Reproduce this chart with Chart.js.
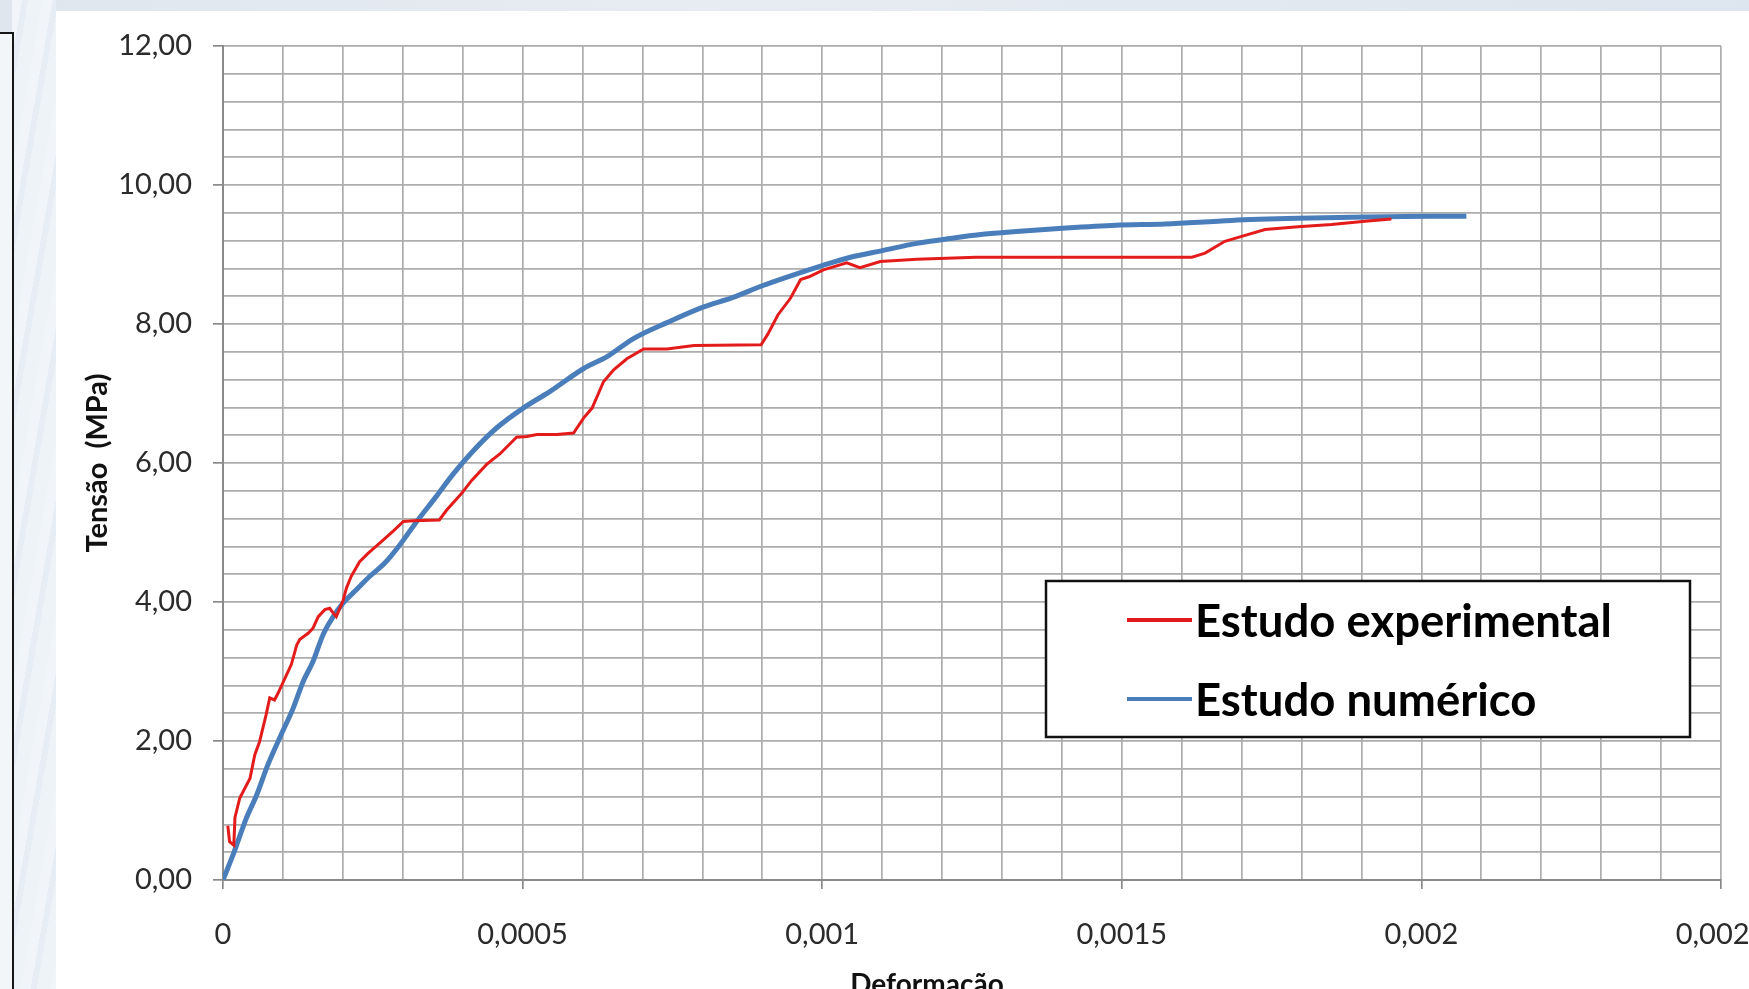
<!DOCTYPE html>
<html>
<head>
<meta charset="utf-8">
<title>Tensão x Deformação</title>
<script src="https://cdn.jsdelivr.net/npm/chart.js@4.4.1/dist/chart.umd.min.js"></script>
<style>
    html, body { margin: 0; padding: 0; }
    body {
        width: 1749px;
        height: 989px;
        overflow: hidden;
        position: relative;
        background: linear-gradient(90deg, #dfe6ee 0%, #e7ecf2 40%, #dde5ee 100%);
    }
    #side {
        position: absolute; left: 12px; top: 0; width: 44px; height: 989px;
        background: repeating-linear-gradient(100deg, #f1f5f9 0 10px, #e6edf4 10px 16px, #eef3f8 16px 30px);
    }
    #box {
        position: absolute; left: -4px; top: 32px; width: 14px; height: 1000px;
        border: 2px solid #161616;
        background: #f3f6f9;
    }
    #panel {
        position: absolute; left: 56px; top: 11px; width: 1693px; height: 978px;
        background: #ffffff;
    }
    #chart { position: absolute; left: 0; top: 0; }
</style>
</head>
<body>
<div id="side"></div>
<div id="box"></div>
<div id="panel"></div>
<canvas id="chart" width="1800" height="1010"></canvas>
<script>
// Estudo experimental (deformação, tensão em MPa)
const expStrain = [
    0.000008, 0.000011, 0.000018, 0.00002, 0.000028, 0.000045, 0.000053, 0.000061,
    0.000072, 0.000078, 0.000086, 0.000092, 0.000106, 0.000114, 0.000123, 0.000128,
    0.000142, 0.00015, 0.000159, 0.00017, 0.000178, 0.000184, 0.000189, 0.0002,
    0.000206, 0.000214, 0.000228, 0.000242, 0.000262, 0.000284, 0.000301, 0.000318,
    0.000361, 0.000373, 0.000398, 0.000415, 0.00044, 0.000462, 0.00049, 0.000507,
    0.000524, 0.000557, 0.000585, 0.000602, 0.000616, 0.000635, 0.000652, 0.000674,
    0.000702, 0.000741, 0.000786, 0.000898, 0.000909, 0.000926, 0.000947, 0.000964,
    0.000978, 0.001002, 0.001041, 0.001063, 0.001097, 0.001158, 0.001257, 0.001617,
    0.001639, 0.001672, 0.0017, 0.001739, 0.001794, 0.00185, 0.001906, 0.00195
];
const expStress = [
    0.78, 0.55, 0.50, 0.90, 1.18, 1.46, 1.80, 1.99,
    2.38, 2.62, 2.59, 2.69, 2.95, 3.10, 3.38, 3.46,
    3.55, 3.62, 3.79, 3.89, 3.91, 3.84, 3.79, 4.01,
    4.20, 4.37, 4.58, 4.70, 4.85, 5.02, 5.16, 5.17,
    5.18, 5.32, 5.56, 5.75, 5.98, 6.13, 6.37, 6.38,
    6.41, 6.41, 6.43, 6.65, 6.79, 7.17, 7.34, 7.50,
    7.64, 7.64, 7.69, 7.70, 7.85, 8.13, 8.37, 8.64,
    8.68, 8.78, 8.88, 8.81, 8.90, 8.93, 8.96, 8.96,
    9.02, 9.19, 9.26, 9.36, 9.40, 9.43, 9.48, 9.51
];

// Estudo numérico
const numStrain = [
    0, 0.0000167, 0.000039, 0.000056, 0.000075, 0.000097, 0.000117, 0.000134,
    0.00015, 0.000167, 0.000184, 0.0002, 0.000223, 0.000245, 0.00027, 0.000295,
    0.00032, 0.000356, 0.000384, 0.000417, 0.000456, 0.000501, 0.000546, 0.000602,
    0.000641, 0.000685, 0.000741, 0.0008, 0.00085, 0.0009, 0.00095, 0.001,
    0.001047, 0.001102, 0.001158, 0.001213, 0.001268, 0.001324, 0.001407, 0.00149,
    0.001572, 0.001683, 0.001794, 0.001906, 0.002017, 0.002075
];
const numStress = [
    0, 0.36, 0.89, 1.22, 1.66, 2.09, 2.47, 2.86,
    3.14, 3.53, 3.79, 3.98, 4.18, 4.37, 4.56, 4.82,
    5.12, 5.52, 5.84, 6.17, 6.50, 6.79, 7.03, 7.36,
    7.53, 7.79, 8.02, 8.24, 8.38, 8.55, 8.70, 8.84,
    8.96, 9.06, 9.16, 9.23, 9.29, 9.33, 9.38, 9.42,
    9.44, 9.49, 9.52, 9.54, 9.55, 9.55
];

const seriesNames = ["Estudo experimental", "Estudo numérico"];
const seriesColors = ["#e41b1b", "#4a7ebb"];

const xMax = 0.0025, xStep = 0.0001, xLabelEvery = 5;
const yMax = 12, yStep = 0.4, yLabelEvery = 5;

const toPoints = (xs, ys) => xs.map((x, i) => ({ x, y: ys[i] }));

const isMajor = (value, step, every) => Math.round(value / step) % every === 0;

const gridColor = "#adadad";
const tickText = "#2b2b2b";

// legend box and x title are drawn after the chart
const extras = {
    id: "extras",
    afterDraw(chart) {
        const { ctx, chartArea } = chart;
        ctx.save();

        // x axis title
        ctx.font = "bold 28px Lato";
        ctx.fillStyle = "#111";
        ctx.textAlign = "center";
        ctx.textBaseline = "alphabetic";
        ctx.fillText("Deformação", chartArea.left + 704, chartArea.bottom + 114);

        // legend
        const bx = chartArea.left + 823, by = chartArea.top + 535;
        ctx.fillStyle = "#fff";
        ctx.fillRect(bx, by, 644, 156);
        ctx.lineWidth = 2.5;
        ctx.strokeStyle = "#111";
        ctx.strokeRect(bx, by, 644, 156);

        ctx.font = "bold 45.5px Lato";
        ctx.textAlign = "left";
        ctx.textBaseline = "middle";
        chart.data.datasets.forEach((ds, i) => {
            const y = by + 39 + i * 79;
            ctx.beginPath();
            ctx.moveTo(bx + 81, y);
            ctx.lineTo(bx + 146, y);
            ctx.lineWidth = 4;
            ctx.strokeStyle = ds.borderColor;
            ctx.stroke();
            ctx.fillStyle = "#000";
            ctx.fillText(ds.label, bx + 149, y + 2);
        });
        ctx.restore();
    }
};

new Chart(document.getElementById("chart"), {
    type: "scatter",
    data: {
        datasets: [
            {
                label: seriesNames[0],
                data: toPoints(expStrain, expStress),
                showLine: true,
                borderColor: seriesColors[0],
                borderWidth: 3,
                pointRadius: 0,
                tension: 0
            },
            {
                label: seriesNames[1],
                data: toPoints(numStrain, numStress),
                showLine: true,
                borderColor: seriesColors[1],
                borderWidth: 5,
                pointRadius: 0,
                cubicInterpolationMode: "monotone"
            }
        ]
    },
    options: {
        responsive: false,
        animation: false,
        layout: { padding: { left: 0, top: 46, right: 79, bottom: 0 } },
        plugins: {
            legend: { display: false },
            tooltip: { enabled: false }
        },
        scales: {
            x: {
                type: "linear",
                min: 0,
                max: xMax,
                afterFit: (scale) => { scale.height = 130; },
                border: { color: "#8a8a8a", width: 2 },
                grid: {
                    color: gridColor,
                    lineWidth: 1.7,
                    tickLength: 9,
                    tickColor: (c) => (c.tick && isMajor(c.tick.value, xStep, xLabelEvery) ? "#8a8a8a" : "rgba(0,0,0,0)")
                },
                ticks: {
                    stepSize: xStep,
                    autoSkip: false,
                    maxRotation: 0,
                    padding: 28,
                    color: tickText,
                    font: { family: "Lato", size: 29 },
                    callback: (v) => {
                        if (!isMajor(v, xStep, xLabelEvery)) return "";
                        return v === 0 ? "0" : String(v).replace(".", ",");
                    }
                }
            },
            y: {
                min: 0,
                max: yMax,
                afterFit: (scale) => { scale.width = 223; },
                border: { color: "#8a8a8a", width: 2 },
                grid: {
                    color: gridColor,
                    lineWidth: 1.7,
                    tickLength: 10,
                    tickColor: (c) => (c.tick && isMajor(c.tick.value, yStep, yLabelEvery) ? "#8a8a8a" : "rgba(0,0,0,0)")
                },
                title: {
                    display: true,
                    text: "Tensão  (MPa)",
                    color: "#111",
                    font: { family: "Lato", size: 29, weight: "bold" },
                    padding: { top: 80, bottom: 0 }
                },
                ticks: {
                    stepSize: yStep,
                    autoSkip: false,
                    padding: 21,
                    color: tickText,
                    font: { family: "Lato", size: 29 },
                    callback: (v) => (isMajor(v, yStep, yLabelEvery) ? v.toFixed(2).replace(".", ",") : "")
                }
            }
        }
    },
    plugins: [extras]
});
</script>
</body>
</html>
